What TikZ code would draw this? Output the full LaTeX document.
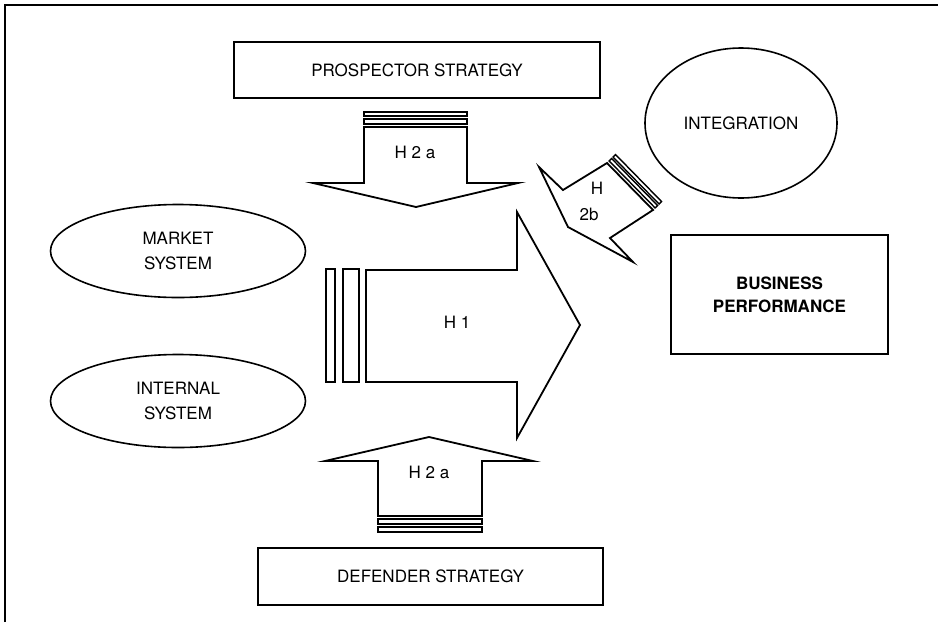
\documentclass[tikz,border=0pt]{standalone}
\usepackage{fontspec}
\setmainfont{TeX Gyre Heros}
\usetikzlibrary{shapes.geometric}
\tikzset{
  lbl/.style={font=\fontsize{17}{25}\selectfont, align=center, inner sep=0pt},
  boxnode/.style={draw, line width=1.8pt, rectangle, inner sep=0pt, font=\fontsize{17}{23}\selectfont, align=center},
  ellnode/.style={draw, line width=1.6pt, ellipse, inner sep=0pt, font=\fontsize{17}{25}\selectfont, align=center},
  shp/.style={draw, line width=1.8pt, line join=miter, fill=white},
  barshp/.style={draw, line width=1.4pt, fill=white}
}
\begin{document}
\begin{tikzpicture}[x=1pt, y=-1pt]
\useasboundingbox (0,0) rectangle (938,622);
% outer frame (only top and left visible)
\coordinate (fbl) at (5,622);
\coordinate (ftl) at (5,5);
\coordinate (ftr) at (938,5);
\draw[line width=2pt] (fbl) -- (ftl) -- (ftr);

% boxes
\node[boxnode, minimum width=366pt, minimum height=56pt] (pros) at (417,70) {PROSPECTOR STRATEGY};
\node[boxnode, minimum width=345pt, minimum height=57pt] (def) at (430.5,576.5) {DEFENDER STRATEGY};
\node[boxnode, minimum width=217pt, minimum height=119pt, font=\fontsize{17}{23}\selectfont\bfseries] (bp) at (779.5,294.5) {BUSINESS\\PERFORMANCE};

% ellipses
\node[ellnode, minimum width=255pt, minimum height=93pt] (mkt) at (178,251) {MARKET\\SYSTEM};
\node[ellnode, minimum width=255pt, minimum height=93pt] (int) at (178,401) {INTERNAL\\SYSTEM};
\node[ellnode, minimum width=192pt, minimum height=150pt] (integ) at (741,123) {INTEGRATION};

% top H2a arrow
\draw[barshp] (364,112) rectangle (467,116);
\draw[barshp] (364,119) rectangle (467,124);
\draw[shp] (364,127) -- (467,127) -- (467,183) -- (518,183) -- (416,207) -- (313,183) -- (364,183) -- cycle;
\node[lbl] (h2top) at (415,152) {H 2 a};

% H1 arrow
\draw[barshp] (326,269) rectangle (335,382);
\draw[barshp] (343,269) rectangle (359,382);
\draw[shp] (366,270) -- (517,270) -- (517,212) -- (580,325) -- (517,438) -- (517,382) -- (366,382) -- cycle;
\node[lbl] (h1) at (457,322) {H 1};

% bottom H2a arrow
\draw[barshp] (378,519) rectangle (482,524);
\draw[barshp] (378,527) rectangle (482,532);
\draw[shp] (378,516) -- (378,461) -- (325,461) -- (429,437) -- (533,461) -- (482,461) -- (482,516) -- cycle;
\node[lbl] (h2bot) at (429,472) {H 2 a};

% H2b arrow
\draw[barshp] (609.1,160.9) -- (655.1,207.9) -- (657.6,205.5) -- (611.6,158.5) -- cycle;
\draw[barshp] (613.1,157.1) -- (659.1,204.1) -- (661.6,201.6) -- (615.6,154.6) -- cycle;
\draw[shp] (607,163) -- (563,190) -- (539,167) -- (568,227) -- (633,262) -- (610,238) -- (653,210) -- cycle;
\node[lbl] (h2bH) at (597,188) {H};
\node[lbl] (h2bN) at (589,214) {2b};
\end{tikzpicture}
\end{document}
